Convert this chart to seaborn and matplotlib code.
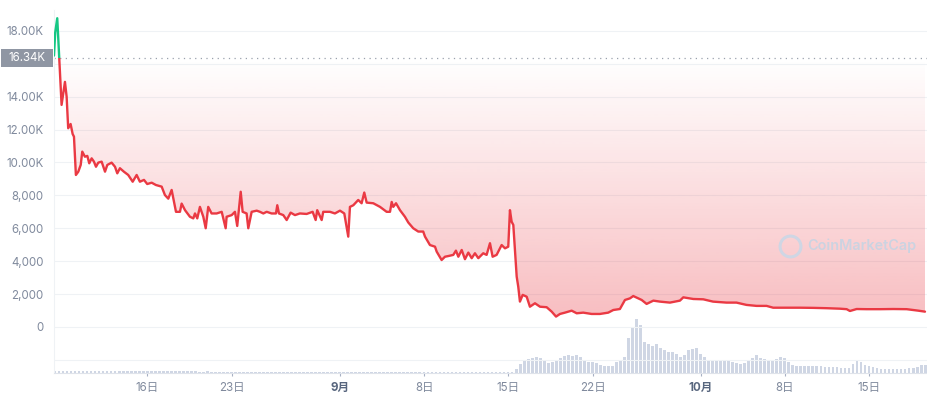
import numpy as np
import pandas as pd
import matplotlib
matplotlib.use("Agg")
import matplotlib.pyplot as plt
import matplotlib.transforms as mtransforms
from matplotlib.colors import LinearSegmentedColormap
from matplotlib.patches import Rectangle
import seaborn as sns

# =========================
# DATA  (x = days since 1 Sep)
# =========================
price_days = [
    -23.77, -23.67, -23.50, -23.33, -23.14, -22.86, -22.72, -22.59, -22.39, -22.22,
    -22.11, -21.95, -21.75, -21.55, -21.42, -21.20, -21.00, -20.84, -20.64, -20.45,
    -20.28, -20.09, -19.81, -19.53, -19.34, -18.98, -18.70, -18.51, -18.29, -17.96,
    -17.60, -17.23, -16.90, -16.63, -16.29, -16.02, -15.65, -15.30, -14.82, -14.55,
    -14.27, -13.99, -13.63, -13.30, -13.16, -12.88, -12.47, -12.19, -12.05, -11.86,
    -11.64, -11.36, -11.16, -10.95, -10.67, -10.25, -9.83, -9.50, -9.42, -9.00,
    -8.73, -8.54, -8.25, -8.09, -7.76, -7.62, -7.34, -6.92, -6.65, -6.37,
    -6.09, -5.68, -5.32, -5.21, -5.07, -4.71, -4.43, -4.10, -3.74, -3.33,
    -2.77, -2.27, -2.02, -1.89, -1.52, -1.39, -0.83, -0.42, 0.00, 0.36,
    0.69, 0.83, 1.11, 1.52, 1.80, 2.02, 2.22, 2.77, 3.33, 3.88,
    4.16, 4.30, 4.43, 4.66, 4.99, 5.40, 5.68, 6.09, 6.51, 6.92,
    7.07, 7.48, 7.90, 8.04, 8.45, 8.73, 9.00, 9.42, 9.64, 9.84,
    10.12, 10.39, 10.67, 10.95, 11.22, 11.50, 11.91, 12.19, 12.47, 12.69,
    13.02, 13.44, 13.72, 13.99, 14.13, 14.27, 14.41, 14.55, 14.69, 14.82,
    14.96, 15.19, 15.52, 15.79, 16.21, 16.63, 17.18, 17.60, 17.96, 18.29,
    18.70, 19.26, 19.68, 20.22, 20.92, 21.61, 22.30, 22.72, 23.27, 23.69,
    24.11, 24.38, 24.80, 25.08, 25.49, 26.05, 26.60, 27.43, 28.26, 28.54,
    29.37, 30.20, 31.01, 32.13, 32.96, 33.79, 34.63, 35.46, 36.01, 37.12,
    38.24, 39.34, 40.45, 41.56, 42.12, 42.39, 42.95, 43.78, 44.89, 46.00,
    47.11, 48.07, 48.63,
]
price_usd = [
    16500, 17900, 18770, 16300, 13500, 14900, 14000, 12080, 12340, 11730,
    11570, 9240, 9440, 9850, 10660, 10350, 10400, 9950, 10250, 10050,
    9740, 9990, 10050, 9440, 9850, 9990, 9740, 9340, 9650, 9440,
    9240, 8830, 9240, 8830, 8940, 8690, 8770, 8630, 8530, 8020,
    7800, 8330, 7000, 7000, 7500, 7100, 6700, 6600, 6900, 6600,
    7300, 6700, 6000, 7300, 6900, 6900, 7000, 6000, 6700, 6800,
    7000, 6140, 8220, 7000, 6900, 6000, 7000, 7070, 7000, 6900,
    7000, 6900, 6900, 7400, 6900, 6800, 6500, 6950, 6800, 6900,
    6870, 7000, 6500, 7100, 6500, 7000, 7000, 6900, 7070, 6900,
    5490, 7300, 7400, 7720, 7520, 8170, 7560, 7520, 7300, 7000,
    7000, 7600, 7300, 7520, 7100, 6700, 6350, 6000, 5800, 5800,
    5490, 4980, 4880, 4580, 4070, 4270, 4310, 4380, 4640, 4270,
    4680, 4120, 4520, 4180, 4480, 4180, 4480, 4380, 5090, 4270,
    4380, 4980, 4780, 4880, 7100, 6400, 6200, 4680, 3060, 2450,
    1540, 1950, 1840, 1230, 1440, 1230, 1200, 930, 630, 790,
    870, 990, 830, 870, 790, 790, 870, 1030, 1090, 1640,
    1740, 1880, 1740, 1640, 1400, 1600, 1540, 1480, 1600, 1800,
    1700, 1680, 1540, 1480, 1480, 1340, 1280, 1280, 1170, 1170,
    1170, 1160, 1140, 1110, 1080, 970, 1090, 1080, 1080, 1090,
    1080, 990, 930,
]
baseline_price = 16340

# volume bars, one every 8 hours starting at day -23.69
vol_start_day = -23.69
vol_step_days = 1 / 3
volume = [
    1.6, 1.7, 1.6, 1.6, 1.7, 1.6, 1.6, 1.7, 1.6, 1.6,
    1.7, 1.6, 1.6, 1.7, 1.6, 1.6, 1.7, 1.6, 1.6, 1.7,
    1.6, 1.6, 1.7, 1.6, 1.6, 1.7, 1.6, 1.6, 1.7, 1.6,
    1.6, 1.7, 1.6, 1.6, 1.7, 1.6, 1.5, 1.4, 2.3, 1.3,
    1.0, 1.0, 1.1, 1.0, 1.0, 1.1, 1.0, 1.0, 1.1, 1.0,
    1.0, 1.1, 1.0, 1.0, 1.1, 1.0, 1.0, 1.1, 1.0, 1.0,
    1.1, 1.0, 1.0, 1.1, 1.0, 1.0, 1.1, 1.0, 1.0, 1.1,
    1.0, 1.0, 1.1, 1.0, 1.0, 1.1, 1.0, 1.0, 1.1, 1.0,
    1.0, 1.1, 1.0, 1.0, 1.1, 1.0, 1.0, 1.1, 1.0, 1.0,
    1.1, 1.0, 1.0, 1.1, 1.0, 1.0, 1.1, 1.0, 1.0, 1.1,
    1.0, 1.0, 1.1, 1.0, 1.0, 1.1, 1.0, 1.0, 1.1, 1.0,
    1.0, 1.1, 1.0, 1.0,
    1, 4, 9, 13, 14, 15, 16, 15, 12, 10,
    11, 13, 15, 17, 18, 17, 18, 16, 13, 11,
    11, 10, 8, 7, 7, 7, 11, 13, 16, 35,
    45, 54, 48, 31, 29, 27, 29, 25, 23, 21,
    21, 19, 16, 18, 23, 24, 25, 19, 16, 13,
    12, 13, 13, 12, 12, 11, 10, 9, 10, 13,
    15, 18, 15, 14, 13, 12, 14, 16, 15, 11,
    8, 7, 7, 7, 7, 7, 7, 7, 6, 6,
    6, 6, 5, 5, 5, 9, 12, 11, 8, 7,
    6, 5, 4, 4, 4, 4, 4, 4, 4, 5,
    5, 6, 8, 8,
]

tick_dates = ["2021-08-16", "2021-08-23", "2021-09-01", "2021-09-08", "2021-09-15",
              "2021-09-22", "2021-10-01", "2021-10-08", "2021-10-15"]
tick_labels = ["16日", "23日", "9月", "8日", "15日", "22日", "10月", "8日", "15日"]
ytick_values = [-2000, 0, 2000, 4000, 6000, 8000, 10000, 12000, 14000, 16000, 18000]
ytick_labels = ["", "0", "2,000", "4,000", "6,000", "8,000", "10.00K", "12.00K", "14.00K", "", "18.00K"]

# =========================
# STYLE
# =========================
RED = "#ea3943"
GREEN = "#16c784"
GREY_TXT = "#808a9d"
GRID = "#eff2f5"

sns.set_theme(style="white")
plt.rcParams["font.family"] = ["Inter", "Noto Sans CJK SC", "DejaVu Sans"]

x0, x1 = -23.77, 48.88
y0, y1 = -2800, 19270
rect = [54 / 928, 27 / 400, 874 / 928, 363 / 400]

fig = plt.figure(figsize=(9.28, 4), dpi=100)

# volume (behind)
ax_vol = fig.add_axes(rect)
vol_days = vol_start_day + np.arange(len(volume)) * vol_step_days
ax_vol.bar(vol_days, volume, width=0.23, color="#cfd6e4", linewidth=0)
ax_vol.set_xlim(x0, x1)
ax_vol.set_ylim(0, 363)
ax_vol.set_axis_off()

# price
ax = fig.add_axes(rect)
ax.patch.set_visible(False)

ref = pd.Timestamp("2021-09-01")
tick_days = [(pd.Timestamp(d) - ref).days for d in tick_dates]

# gradient fill between line and reference price
fill = ax.fill_between(price_days, price_usd, baseline_price, facecolor="none", edgecolor="none")
cmap = LinearSegmentedColormap.from_list(
    "fade", [(234 / 255, 57 / 255, 67 / 255, 0.0), (234 / 255, 57 / 255, 67 / 255, 0.33)])
grad = np.linspace(1, 0, 256).reshape(-1, 1)
im = ax.imshow(grad, cmap=cmap, aspect="auto", origin="lower",
               extent=[x0, x1, min(price_usd), baseline_price], zorder=1)
im.set_clip_path(fill.get_paths()[0], transform=ax.transData)

# line: green above reference, red below
sns.lineplot(x=price_days, y=price_usd, ax=ax, color=RED, linewidth=1.7,
             estimator=None, sort=False, zorder=3)
ax.lines[-1].set_clip_path(Rectangle((x0, y0), x1 - x0, baseline_price - y0, transform=ax.transData))
sns.lineplot(x=price_days, y=price_usd, ax=ax, color=GREEN, linewidth=1.7,
             estimator=None, sort=False, zorder=3)
ax.lines[-1].set_clip_path(Rectangle((x0, baseline_price), x1 - x0, y1 - baseline_price,
                                     transform=ax.transData))

ax.axhline(baseline_price, color="#9aa1ad", lw=0.9, ls=(0, (1, 3.5)), zorder=2)

ax.set_xlim(x0, x1)
ax.set_ylim(y0, y1)

# axes / ticks
ax.set_yticks(ytick_values)
ax.set_yticklabels(ytick_labels)
ax.yaxis.grid(True, color=GRID, lw=0.8)
ax.xaxis.grid(False)
ax.set_xticks(tick_days)
ax.set_xticklabels(tick_labels)
ax.tick_params(axis="y", length=0, pad=7.5, labelcolor=GREY_TXT, labelsize=8.3)
ax.tick_params(axis="x", bottom=True, length=2.5, width=0.8, color="#a6b0c3",
               pad=4, labelcolor=GREY_TXT, labelsize=8.3)
for lab in ax.get_xticklabels():
    if "月" in lab.get_text():
        lab.set_fontweight("bold")
        lab.set_color("#58667e")
for side in ["top", "right"]:
    ax.spines[side].set_visible(False)
ax.spines["left"].set_color(GRID)
ax.spines["left"].set_linewidth(0.8)
ax.spines["bottom"].set_color("#dfe3ea")
ax.spines["bottom"].set_linewidth(0.8)
ax.set_xlabel("")
ax.set_ylabel("")

# current price tag
trans = mtransforms.blended_transform_factory(fig.transFigure, ax.transData)
ax.add_patch(Rectangle((1 / 928, baseline_price - 560), 52 / 928, 1120, transform=trans,
                       facecolor="#8f96a3", edgecolor="none", clip_on=False, zorder=5))
ax.text(45 / 928, baseline_price, "16.34K", transform=trans, ha="right", va="center",
        color="white", fontsize=8.3, zorder=6, clip_on=False)

# watermark
ax.plot([(790 - 54) / 874], [0.35], transform=ax.transAxes, marker="o",
        markersize=15, markerfacecolor="none", markeredgecolor="#cfd6e4",
        markeredgewidth=2.2, zorder=2)
ax.text((807 - 54) / 874, 0.35, "CoinMarketCap", transform=ax.transAxes, ha="left",
        va="center", color="#cbd3e1", fontsize=10.4, fontweight="semibold", zorder=2)

plt.savefig("out.png", dpi=100)
